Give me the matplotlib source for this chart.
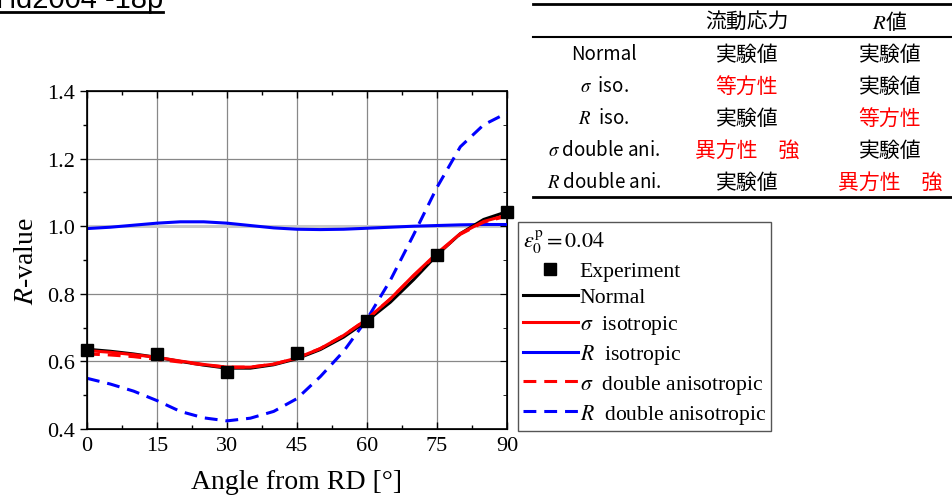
import matplotlib.pyplot as plt
from matplotlib.lines import Line2D

plt.rcParams['font.family'] = ['Liberation Serif', 'DejaVu Serif']
plt.rcParams['mathtext.fontset'] = 'stix'

# experiment
exp_angle = [0, 15, 30, 45, 60, 75, 90]
exp_r = [0.635, 0.622, 0.568, 0.625, 0.72, 0.916, 1.043]

# model curves, read every 5 deg
angle = [0, 5, 10, 15, 20, 25, 30, 35, 40, 45, 50, 55, 60, 65, 70, 75, 80, 85, 90]
r_normal = [0.636, 0.630, 0.622, 0.612, 0.600, 0.589, 0.580, 0.580, 0.590, 0.608,
            0.635, 0.672, 0.720, 0.775, 0.842, 0.915, 0.978, 1.020, 1.043]
r_sig_iso = [0.632, 0.627, 0.620, 0.612, 0.601, 0.591, 0.583, 0.583, 0.592, 0.610,
             0.638, 0.677, 0.725, 0.785, 0.855, 0.920, 0.978, 1.014, 1.033]
r_r_iso = [0.993, 0.997, 1.003, 1.009, 1.013, 1.013, 1.009, 1.002, 0.995, 0.991,
           0.990, 0.991, 0.994, 0.997, 1.000, 1.002, 1.004, 1.005, 1.005]
r_sig_dani = [0.622, 0.619, 0.614, 0.606, 0.598, 0.590, 0.583, 0.583, 0.592, 0.610,
              0.638, 0.677, 0.725, 0.785, 0.853, 0.918, 0.976, 1.012, 1.030]
r_r_dani = [0.550, 0.533, 0.512, 0.484, 0.452, 0.433, 0.424, 0.432, 0.452, 0.490,
            0.555, 0.630, 0.725, 0.840, 0.975, 1.115, 1.235, 1.300, 1.335]

# table contents
tbl_cols = ['流動応力', '$R$値']
tbl_rows = ['Normal', '$\\sigma$  iso.', '$R$  iso.', '$\\sigma$ double ani.', '$R$ double ani.']
tbl_cells = [['実験値', '実験値'],
             ['等方性', '実験値'],
             ['実験値', '等方性'],
             ['異方性　強', '実験値'],
             ['実験値', '異方性　強']]

W, H = 953, 502
fig = plt.figure(figsize=(9.53, 5.02), dpi=100)
ax = fig.add_axes([87 / W, 1 - 430 / H, 420 / W, 338 / H])

ax.axhline(1.0, color='#c8c8c8', lw=2.2, zorder=1)
ax.plot(angle, r_r_dani, color='#0000ff', lw=2.2, dashes=(4.2, 2.6), zorder=3)
ax.plot(angle, r_r_iso, color='#0000ff', lw=2.2, zorder=3)
ax.plot(angle, r_normal, color='black', lw=2.2, zorder=4)
ax.plot(angle, r_sig_iso, color='#ff0000', lw=2.2, zorder=5)
ax.plot(angle, r_sig_dani, color='#ff0000', lw=2.2, dashes=(4.2, 2.6), zorder=5)
ax.plot(exp_angle, exp_r, 's', color='black', ms=8.5, zorder=6, clip_on=False)

ax.set_xlim(0, 90)
ax.set_ylim(0.4, 1.4)
ax.set_xticks(range(0, 91, 15))
ax.set_xticks([7.5 + 15 * i for i in range(6)], minor=True)
ax.set_yticks([0.4, 0.6, 0.8, 1.0, 1.2, 1.4])
ax.set_yticks([0.5, 0.7, 0.9, 1.1, 1.3], minor=True)
ax.grid(True, which='major', color='#888888', lw=0.9, zorder=0)
ax.set_axisbelow(True)
ax.tick_params(axis='x', which='both', direction='in', top=True, labelsize=16, pad=5)
ax.tick_params(axis='y', which='both', direction='out', labelsize=16)
ax.tick_params(which='major', length=5, width=1)
ax.tick_params(which='minor', length=3, width=1)
for s in ax.spines.values():
    s.set_linewidth(1.2)
ax.set_yticklabels(['0.4', '0.6', '0.8', '1.0', '1.2', '1.4'])
ax.set_xlabel('Angle from RD [°]', fontsize=20, labelpad=10)
ax.set_ylabel('$R$-value', fontsize=20, labelpad=6)

# right-side inward ticks
ax2 = ax.twinx()
ax2.set_ylim(0.4, 1.4)
ax2.set_yticks([0.6, 0.8, 1.0, 1.2])
ax2.set_yticks([0.5, 0.7, 0.9, 1.1, 1.3], minor=True)
ax2.tick_params(axis='y', which='both', direction='in', labelright=False)
ax2.tick_params(which='major', length=5)
ax2.tick_params(which='minor', length=3)

handles = [
    Line2D([], [], marker='s', color='black', ls='none', ms=8.5),
    Line2D([], [], color='black', lw=2.2),
    Line2D([], [], color='#ff0000', lw=2.2),
    Line2D([], [], color='#0000ff', lw=2.2),
    Line2D([], [], color='#ff0000', lw=2.2, dashes=(4.2, 2.6)),
    Line2D([], [], color='#0000ff', lw=2.2, dashes=(4.2, 2.6)),
]
labels = ['Experiment', 'Normal', '$\\sigma$  isotropic', '$R$  isotropic',
          '$\\sigma$  double anisotropic', '$R$  double anisotropic']
leg = fig.legend(handles, labels, loc='lower left',
                 bbox_to_anchor=(518 / W, 1 - 432 / H), bbox_transform=fig.transFigure,
                 fontsize=15.6, title='$\\varepsilon_0^{\\rm p} = 0.04$', title_fontsize=16,
                 alignment='left', fancybox=False, edgecolor='#555555',
                 framealpha=1, handlelength=2.5, handletextpad=0.1,
                 labelspacing=0.28, borderpad=0.25, borderaxespad=0)
leg.get_frame().set_linewidth(1.0)

# title at upper left (partly cut off, as in the original)
fig.text(163 / W, 1 - 8.5 / H, 'Yld2004 -18p', ha='right', va='baseline',
         fontsize=21, family=['Liberation Sans', 'DejaVu Sans'])
fig.add_artist(Line2D([0, 163 / W], [1 - 12.5 / H] * 2, color='black', lw=2))

# table at upper right
jp = ['Noto Sans CJK JP', 'DejaVu Sans']
x_lab, x_c1, x_c2 = 604 / W, 747 / W, 890 / W
for y in (5, 38, 198):
    fig.add_artist(Line2D([533 / W, 1.0], [1 - y / H] * 2, color='black',
                          lw=2 if y != 38 else 1.5))
fig.text(x_c1, 1 - 22 / H, tbl_cols[0], ha='center', va='center', fontsize=15, family=jp)
fig.text(x_c2, 1 - 22 / H, tbl_cols[1], ha='center', va='center', fontsize=15, family=jp)
row_y = [55, 87, 119, 151, 183]
for yy, lab, cells in zip(row_y, tbl_rows, tbl_cells):
    fig.text(x_lab, 1 - yy / H, lab, ha='center', va='center', fontsize=13.5, family=jp)
    for xc, c in zip((x_c1, x_c2), cells):
        col = 'black' if c == '実験値' else '#ff0000'
        fig.text(xc, 1 - yy / H, c, ha='center', va='center', fontsize=15,
                 family=jp, color=col)

fig.savefig('out.png', dpi=100)
